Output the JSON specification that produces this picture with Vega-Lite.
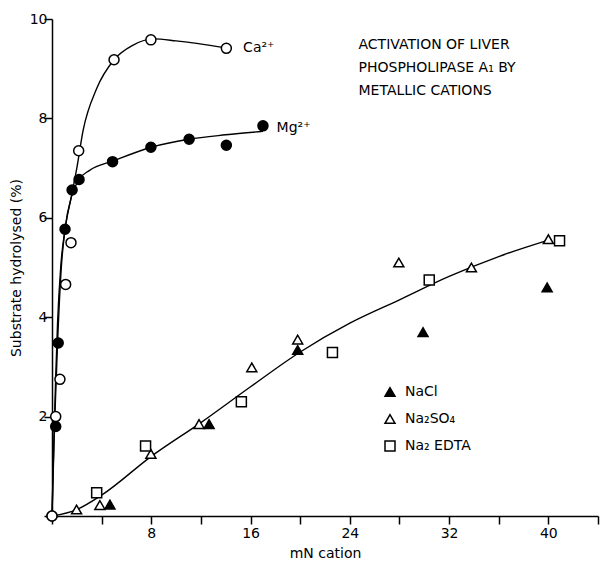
{
  "$schema": "https://vega.github.io/schema/vega-lite/v6.json",
  "width": 546,
  "height": 497,
  "autosize": {"type": "none"},
  "padding": {"left": 52, "top": 19, "right": 2, "bottom": 47},
  "background": "white",
  "config": {
    "view": {"stroke": null},
    "font": "DejaVu Sans",
    "axis": {
      "domainColor": "black",
      "domainWidth": 1.5,
      "tickColor": "black",
      "tickWidth": 1.5,
      "tickSize": 8,
      "grid": false,
      "labelColor": "black",
      "labelFontSize": 14,
      "labelFont": "DejaVu Sans",
      "titleColor": "black",
      "titleFontSize": 14,
      "titleFontWeight": "normal",
      "titleFont": "DejaVu Sans"
    }
  },
  "datasets": {
    "points": [
      {"series": "Mg²⁺", "x": 0, "y": 0},
      {"series": "Mg²⁺", "x": 0.3, "y": 1.8},
      {"series": "Mg²⁺", "x": 0.5, "y": 3.48},
      {"series": "Mg²⁺", "x": 1.05, "y": 5.77},
      {"series": "Mg²⁺", "x": 1.62, "y": 6.56},
      {"series": "Mg²⁺", "x": 2.18, "y": 6.77},
      {"series": "Mg²⁺", "x": 4.88, "y": 7.13},
      {"series": "Mg²⁺", "x": 7.97, "y": 7.42},
      {"series": "Mg²⁺", "x": 11.05, "y": 7.58},
      {"series": "Mg²⁺", "x": 14.05, "y": 7.46},
      {"series": "Mg²⁺", "x": 17.0, "y": 7.85},
      {"series": "Ca²⁺", "x": 0, "y": 0},
      {"series": "Ca²⁺", "x": 0.3, "y": 2.0},
      {"series": "Ca²⁺", "x": 0.64, "y": 2.75},
      {"series": "Ca²⁺", "x": 1.1, "y": 4.66},
      {"series": "Ca²⁺", "x": 1.53, "y": 5.5},
      {"series": "Ca²⁺", "x": 2.15, "y": 7.35},
      {"series": "Ca²⁺", "x": 5.0, "y": 9.18},
      {"series": "Ca²⁺", "x": 7.97, "y": 9.58},
      {"series": "Ca²⁺", "x": 14.05, "y": 9.41},
      {"series": "NaCl", "x": 4.67, "y": 0.23},
      {"series": "NaCl", "x": 12.66, "y": 1.85},
      {"series": "NaCl", "x": 19.8, "y": 3.34},
      {"series": "NaCl", "x": 29.9, "y": 3.7},
      {"series": "NaCl", "x": 39.9, "y": 4.6},
      {"series": "Na₂SO₄", "x": 1.98, "y": 0.13},
      {"series": "Na₂SO₄", "x": 3.86, "y": 0.22},
      {"series": "Na₂SO₄", "x": 7.97, "y": 1.25},
      {"series": "Na₂SO₄", "x": 11.85, "y": 1.85},
      {"series": "Na₂SO₄", "x": 16.1, "y": 2.99},
      {"series": "Na₂SO₄", "x": 19.8, "y": 3.55},
      {"series": "Na₂SO₄", "x": 27.95, "y": 5.1},
      {"series": "Na₂SO₄", "x": 33.8, "y": 5.0},
      {"series": "Na₂SO₄", "x": 40.0, "y": 5.57},
      {"series": "Na₂ EDTA", "x": 3.6, "y": 0.47},
      {"series": "Na₂ EDTA", "x": 7.54, "y": 1.41},
      {"series": "Na₂ EDTA", "x": 15.26, "y": 2.3},
      {"series": "Na₂ EDTA", "x": 22.6, "y": 3.29},
      {"series": "Na₂ EDTA", "x": 30.4, "y": 4.75},
      {"series": "Na₂ EDTA", "x": 40.9, "y": 5.54}
    ],
    "curves": [
      {"curve": "Ca", "x": 0, "y": 0},
      {"curve": "Ca", "x": 0.15, "y": 1.5},
      {"curve": "Ca", "x": 0.3, "y": 2.8},
      {"curve": "Ca", "x": 0.45, "y": 3.9},
      {"curve": "Ca", "x": 0.7, "y": 5.0},
      {"curve": "Ca", "x": 1.05, "y": 5.77},
      {"curve": "Ca", "x": 1.58, "y": 6.45},
      {"curve": "Ca", "x": 2.0, "y": 7.0},
      {"curve": "Ca", "x": 2.5, "y": 7.75},
      {"curve": "Ca", "x": 3.6, "y": 8.6},
      {"curve": "Ca", "x": 5.0, "y": 9.18},
      {"curve": "Ca", "x": 6.5, "y": 9.47},
      {"curve": "Ca", "x": 8.2, "y": 9.6},
      {"curve": "Ca", "x": 10, "y": 9.56},
      {"curve": "Ca", "x": 14, "y": 9.42},
      {"curve": "Mg", "x": 0, "y": 0},
      {"curve": "Mg", "x": 0.2, "y": 1.8},
      {"curve": "Mg", "x": 0.45, "y": 3.5},
      {"curve": "Mg", "x": 0.75, "y": 5.0},
      {"curve": "Mg", "x": 1.05, "y": 5.77},
      {"curve": "Mg", "x": 1.6, "y": 6.45},
      {"curve": "Mg", "x": 2.2, "y": 6.78},
      {"curve": "Mg", "x": 3.0, "y": 6.95},
      {"curve": "Mg", "x": 5.0, "y": 7.15},
      {"curve": "Mg", "x": 8.0, "y": 7.42},
      {"curve": "Mg", "x": 11.0, "y": 7.58},
      {"curve": "Mg", "x": 14.0, "y": 7.67},
      {"curve": "Mg", "x": 17.0, "y": 7.74},
      {"curve": "Na", "x": 0, "y": 0},
      {"curve": "Na", "x": 2, "y": 0.13},
      {"curve": "Na", "x": 4, "y": 0.42},
      {"curve": "Na", "x": 8, "y": 1.2},
      {"curve": "Na", "x": 12, "y": 1.88},
      {"curve": "Na", "x": 16, "y": 2.6},
      {"curve": "Na", "x": 20, "y": 3.3},
      {"curve": "Na", "x": 24, "y": 3.88},
      {"curve": "Na", "x": 28, "y": 4.35},
      {"curve": "Na", "x": 32, "y": 4.82},
      {"curve": "Na", "x": 36, "y": 5.22},
      {"curve": "Na", "x": 40, "y": 5.55}
    ],
    "notes": [
      {"text": "Ca²⁺", "x": 15.4, "y": 9.42},
      {"text": "Mg²⁺", "x": 18.1, "y": 7.81},
      {"text": "ACTIVATION OF LIVER", "x": 24.7, "y": 9.48},
      {"text": "PHOSPHOLIPASE A₁ BY", "x": 24.7, "y": 9.01},
      {"text": "METALLIC CATIONS", "x": 24.7, "y": 8.55}
    ]
  },
  "layer": [
    {
      "data": {"name": "curves"},
      "mark": {"type": "line", "interpolate": "monotone", "color": "black", "strokeWidth": 1.4},
      "encoding": {
        "x": {
          "field": "x", "type": "quantitative",
          "scale": {"domain": [0, 44], "nice": false, "zero": true},
          "axis": {
            "title": "mN cation",
            "values": [0, 4, 8, 12, 16, 20, 24, 28, 32, 36, 40, 44],
            "labelExpr": "datum.value % 8 == 0 && datum.value > 0 && datum.value < 44 ? datum.label : ''",
            "labelPadding": 2,
            "titlePadding": 6,
            "encode": {"ticks": {"update": {"y2": {"value": -8}}}}
          }
        },
        "y": {
          "field": "y", "type": "quantitative",
          "scale": {"domain": [0, 10], "nice": false},
          "axis": {
            "title": "Substrate hydrolysed (%)",
            "values": [0, 2, 4, 6, 8, 10],
            "labelExpr": "datum.value > 0 ? datum.label : ''",
            "labelPadding": -3,
            "titlePadding": 6,
            "encode": {"ticks": {"update": {"x2": {"value": 8}}}}
          }
        },
        "detail": {"field": "curve"}
      }
    },
    {
      "data": {"name": "points"},
      "mark": {"type": "point", "filled": true, "stroke": "black", "strokeWidth": 1.5, "size": 100, "opacity": 1},
      "encoding": {
        "x": {"field": "x", "type": "quantitative"},
        "y": {"field": "y", "type": "quantitative"},
        "shape": {
          "field": "series", "type": "nominal",
          "scale": {
            "domain": ["Ca²⁺", "Mg²⁺", "NaCl", "Na₂SO₄", "Na₂ EDTA"],
            "range": ["circle", "circle", "triangle-up", "triangle-up", "square"]
          },
          "legend": {
            "title": null,
            "values": ["NaCl", "Na₂SO₄", "Na₂ EDTA"],
            "orient": "none",
            "legendX": 331,
            "legendY": 366,
            "labelFontSize": 14,
            "labelColor": "black",
            "labelOffset": 8,
            "rowPadding": 11,
            "symbolSize": 100,
            "encode": {"symbols": {"update": {"stroke": {"value": "black"}, "strokeWidth": {"value": 1.5}, "opacity": {"value": 1}}}}
          }
        },
        "fill": {
          "field": "series", "type": "nominal",
          "scale": {
            "domain": ["Ca²⁺", "Mg²⁺", "NaCl", "Na₂SO₄", "Na₂ EDTA"],
            "range": ["white", "black", "black", "white", "white"]
          },
          "legend": {
            "title": null,
            "values": ["NaCl", "Na₂SO₄", "Na₂ EDTA"],
            "orient": "none",
            "legendX": 331,
            "legendY": 366,
            "labelFontSize": 14,
            "labelColor": "black",
            "labelOffset": 8,
            "rowPadding": 11,
            "symbolSize": 100,
            "encode": {"symbols": {"update": {"stroke": {"value": "black"}, "strokeWidth": {"value": 1.5}, "opacity": {"value": 1}}}}
          }
        }
      }
    },
    {
      "data": {"name": "notes"},
      "mark": {"type": "text", "align": "left", "baseline": "middle", "fontSize": 14, "font": "DejaVu Sans", "color": "black"},
      "encoding": {
        "x": {"field": "x", "type": "quantitative"},
        "y": {"field": "y", "type": "quantitative"},
        "text": {"field": "text"}
      }
    }
  ]
}
